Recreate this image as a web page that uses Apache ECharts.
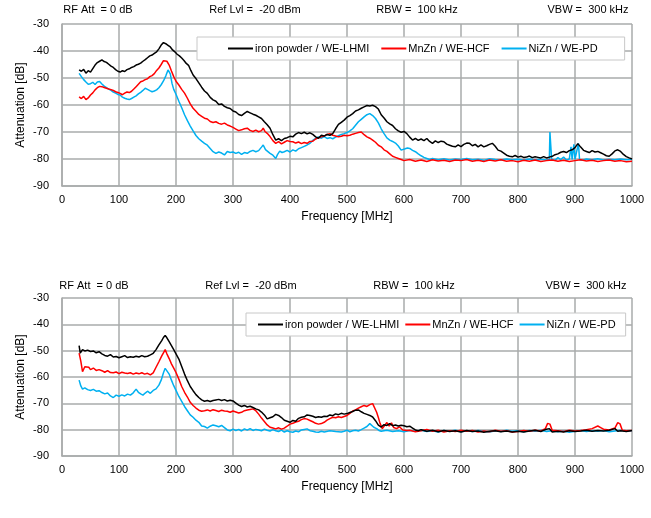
<!DOCTYPE html>
<html>
<head>
<meta charset="utf-8">
<script src="https://cdn.jsdelivr.net/npm/echarts@6/dist/echarts.min.js"></script>
<style>
html,body{margin:0;padding:0;background:#fff;}
#chart{width:651px;height:518px;}
</style>
</head>
<body>
<div id="chart"></div>
<script>
// ---------- data ----------
const seriesNames = ['iron powder / WE-LHMI', 'MnZn / WE-HCF', 'NiZn / WE-PD'];
const seriesColors = ['#000000', '#ff0000', '#00b0f0'];
const headerTexts = ['RF Att  = 0 dB', 'Ref Lvl =  -20 dBm', 'RBW =  100 kHz', 'VBW =  300 kHz'];
const xAxisName = 'Frequency [MHz]';
const yAxisName = 'Attenuation [dB]';
const xMin = 0, xMax = 1000, xStep = 100;
const yMin = -90, yMax = -30, yStep = 10;

// top chart
const topIron = [[30,-47],[34,-47.5],[38,-46.8],[42,-48.2],[46,-47.3],[50,-47.8],[54,-46.5],[58,-45.2],[62,-44.3],[66,-43.8],[70,-43.3],[74,-43.9],[78,-44.2],[82,-44.9],[86,-45.6],[90,-46.1],[94,-46.9],[98,-47.5],[102,-47.8],[106,-47.3],[110,-47.6],[114,-46.9],[118,-46.6],[122,-46.1],[126,-45.8],[130,-45.2],[134,-44.9],[138,-44.5],[142,-43.8],[146,-43.2],[150,-42.5],[154,-41.8],[158,-41.5],[162,-40.9],[166,-40.3],[170,-39.2],[174,-37.8],[178,-36.9],[182,-37.3],[186,-37.9],[190,-38.5],[194,-39.6],[198,-40.3],[202,-41.2],[206,-41.8],[210,-42.6],[214,-43.5],[218,-44.6],[222,-45.3],[226,-47.2],[230,-48.9],[235,-50.2],[240,-51.8],[245,-53.4],[250,-54.8],[255,-55.7],[260,-57.2],[265,-58.1],[270,-58.6],[275,-59.8],[280,-59.6],[285,-60.5],[290,-61],[295,-61.3],[300,-62.2],[305,-62.6],[310,-63.5],[315,-63.9],[320,-63.1],[325,-62.4],[330,-62.9],[335,-63.4],[340,-63.8],[345,-64.4],[350,-65],[355,-66.2],[360,-67.3],[365,-68.6],[370,-71],[375,-73],[380,-72.5],[385,-73.2],[390,-72.4],[395,-72.1],[400,-71.6],[405,-71.8],[410,-70.8],[415,-70.2],[420,-70.6],[425,-70.1],[430,-70.7],[435,-70.3],[440,-70.9],[445,-71.8],[450,-72.3],[455,-71.2],[460,-71.5],[465,-70.9],[470,-71.2],[475,-70.6],[480,-68.8],[485,-67.2],[490,-66.4],[495,-65.6],[500,-64.5],[505,-63.9],[510,-63.2],[515,-62.2],[520,-61.8],[525,-61.2],[530,-60.7],[535,-60.2],[540,-60.4],[545,-60.1],[550,-60.6],[555,-61.5],[560,-63.6],[565,-64.8],[570,-66.2],[575,-67],[580,-67.6],[585,-68.8],[590,-69.6],[595,-70.1],[600,-69.8],[605,-70.6],[610,-71.9],[615,-73],[620,-72.4],[625,-73.1],[630,-72.6],[635,-73.2],[640,-72.4],[645,-73.5],[650,-74.2],[655,-73.3],[660,-73.9],[665,-73.4],[670,-73.6],[675,-74.5],[680,-74.9],[685,-75.3],[690,-75.5],[695,-74.8],[700,-75.4],[705,-74.6],[710,-74.1],[715,-74.2],[720,-75.1],[725,-74.6],[730,-75.5],[735,-74.8],[740,-75.5],[745,-75.1],[750,-74.6],[755,-74.2],[760,-75.3],[765,-76.7],[770,-77.1],[775,-77.8],[780,-78.6],[785,-79],[790,-79.2],[795,-78.7],[800,-79.3],[805,-79],[810,-79.4],[815,-79.3],[820,-78.9],[825,-79.5],[830,-79.2],[835,-79.4],[840,-79.6],[845,-79.1],[850,-79.6],[855,-79.3],[860,-79],[865,-78.4],[870,-78.1],[875,-77.5],[880,-77.2],[885,-77.6],[890,-76.9],[895,-76.6],[900,-75.8],[905,-74.3],[910,-75.6],[915,-76.8],[920,-77.2],[925,-77.6],[930,-76.9],[935,-77.4],[940,-77.2],[945,-77.7],[950,-78.2],[955,-78.8],[960,-79],[965,-78.1],[970,-77],[975,-76.6],[980,-77.2],[985,-78.3],[990,-79.1],[995,-79.6],[1000,-80]];
const topMnZn = [[30,-57],[34,-57.6],[38,-56.8],[42,-58],[46,-57.4],[50,-56.3],[54,-55.5],[58,-54.4],[62,-53.6],[66,-53.1],[70,-53.2],[74,-53.5],[78,-53.8],[82,-54.1],[86,-54.3],[90,-54.6],[94,-55.1],[98,-55.4],[102,-55.7],[106,-56.2],[110,-55.6],[114,-55.2],[118,-55.4],[122,-54.9],[126,-54.1],[130,-53.2],[134,-52.3],[138,-51.4],[142,-51.1],[146,-50.6],[150,-50.3],[154,-49.5],[158,-49.1],[162,-48.4],[166,-47.2],[170,-46.3],[174,-45],[178,-43.6],[181,-43.1],[184,-43.8],[188,-45.2],[192,-47.4],[196,-49.5],[200,-51.2],[205,-52.6],[210,-54.2],[215,-55.6],[220,-57.5],[225,-59.6],[230,-61.2],[235,-62.3],[240,-63.5],[245,-64.2],[250,-64.9],[255,-65.2],[260,-66.1],[265,-66.5],[270,-66.2],[275,-66.8],[280,-67.1],[285,-66.7],[290,-67.4],[295,-67.8],[300,-68.3],[305,-68.9],[310,-69.5],[315,-69.2],[320,-68.8],[325,-68.6],[330,-69.4],[335,-69.8],[340,-69.3],[345,-69.9],[350,-69.5],[353,-68.6],[356,-69.8],[360,-70.5],[365,-71.7],[370,-73.2],[375,-74.2],[380,-73.6],[385,-74.4],[390,-73.8],[395,-73.2],[400,-73.5],[405,-73.6],[410,-74.1],[415,-73.7],[420,-74.3],[425,-73.9],[430,-74.2],[435,-73.5],[440,-73.4],[445,-72.6],[450,-72.1],[455,-71.8],[460,-71.5],[465,-70.9],[470,-70.6],[475,-71.2],[480,-71.5],[485,-71.8],[490,-71.6],[495,-71.2],[500,-71.4],[505,-71.2],[510,-70.8],[515,-70.5],[520,-70.2],[525,-70],[530,-71],[535,-71.8],[540,-72.3],[545,-73],[550,-73.8],[555,-74.9],[560,-75.5],[565,-76.6],[570,-77.2],[575,-78.1],[580,-79],[585,-79.4],[590,-79.8],[595,-80.2],[600,-80.6],[610,-80.2],[620,-80.8],[630,-80.4],[640,-80.9],[650,-80.3],[660,-80.7],[670,-80.5],[680,-80.9],[690,-80.4],[700,-80.6],[710,-80.2],[720,-80.8],[730,-80.5],[740,-80.9],[750,-80.4],[760,-80.7],[770,-80.3],[780,-80.8],[790,-80.6],[800,-81],[810,-80.5],[820,-80.8],[830,-80.4],[840,-80.9],[850,-80.6],[860,-80.4],[870,-80.8],[880,-80.5],[890,-80.9],[900,-80.6],[910,-80.3],[920,-80.7],[930,-80.5],[940,-80.9],[950,-80.6],[960,-80.4],[970,-80.8],[980,-80.6],[990,-81],[1000,-80.8]];
const topNiZn = [[30,-48.3],[34,-49.5],[38,-50.6],[42,-51.5],[46,-52.3],[50,-52.1],[54,-51.6],[58,-52.4],[62,-51.5],[66,-51.3],[70,-52.2],[74,-53],[78,-53.6],[82,-54.1],[86,-54.6],[90,-55.2],[94,-55.6],[98,-56.1],[102,-56.3],[106,-57.1],[110,-57.5],[114,-57.8],[118,-58],[122,-57.6],[126,-57.1],[130,-56.6],[134,-55.9],[138,-55.3],[142,-54.6],[146,-53.8],[150,-54.2],[154,-54.7],[158,-55.1],[162,-54.8],[166,-54.4],[170,-53.6],[174,-52.5],[178,-51.1],[182,-49.3],[186,-47],[188,-46.6],[190,-48.5],[193,-52],[196,-54.2],[200,-56],[205,-58.6],[210,-61],[215,-63.6],[220,-65.8],[225,-67.8],[230,-69.6],[235,-71.3],[240,-72.5],[245,-73.4],[250,-74.2],[255,-74.9],[260,-76.1],[265,-77.3],[270,-77.9],[275,-77.4],[280,-77.8],[285,-78.5],[290,-77.2],[295,-77.6],[300,-77.4],[305,-77.9],[310,-77.5],[315,-78.3],[320,-77.6],[325,-77.9],[330,-77.2],[335,-76.8],[340,-77.3],[345,-76.9],[350,-75.6],[353,-74.8],[357,-76.5],[360,-77.2],[365,-77.9],[370,-78.6],[375,-79.8],[378,-78.4],[382,-77.1],[386,-77.6],[390,-77.3],[395,-76.8],[400,-77.4],[405,-76.6],[410,-77.1],[415,-76.2],[420,-75.8],[425,-75.3],[430,-74.8],[435,-74.2],[440,-73.1],[445,-72.4],[450,-71.8],[455,-72.3],[460,-71.7],[465,-72.4],[470,-72.1],[475,-72.5],[480,-71.9],[485,-71.4],[490,-70.9],[495,-70.6],[500,-70.2],[505,-69.6],[510,-68.8],[515,-67.5],[520,-66.2],[525,-65.3],[530,-64.4],[535,-63.6],[540,-63.2],[545,-63.9],[550,-65],[555,-66.6],[560,-68.8],[565,-70.6],[570,-72.2],[575,-73],[580,-73.5],[585,-74.1],[590,-75.2],[595,-76.7],[598,-77.3],[602,-76.2],[606,-75.9],[610,-76.1],[615,-76.8],[620,-77.3],[625,-78.1],[630,-78.8],[635,-79.4],[640,-79.8],[645,-80.2],[650,-79.8],[660,-80.3],[670,-79.9],[680,-80.4],[690,-80],[700,-80.2],[710,-79.8],[720,-80.3],[730,-80.1],[740,-80.5],[750,-79.9],[760,-80.2],[770,-80.4],[780,-80],[790,-80.3],[800,-80.1],[810,-80.4],[820,-80],[830,-80.3],[840,-80.1],[850,-80.4],[855,-80.2],[856,-70],[858,-70.3],[859,-80.1],[865,-80.5],[870,-79.5],[875,-80.2],[880,-79.3],[885,-80.4],[890,-80],[893,-75.5],[895,-80.2],[898,-74.6],[900,-80.1],[903,-80.4],[906,-74.2],[908,-80.2],[912,-80.5],[920,-80],[930,-80.3],[940,-79.9],[950,-80.4],[960,-80.1],[970,-80.3],[980,-80],[990,-80.3],[1000,-80.1]];

// bottom chart
const botIron = [[30,-48.1],[32,-50.9],[36,-49.6],[40,-50.1],[45,-49.8],[50,-50.3],[55,-50.1],[60,-50.8],[65,-50.4],[70,-51.2],[75,-51.8],[80,-52.1],[85,-51.5],[90,-52.4],[95,-52.2],[100,-52.7],[105,-52.3],[110,-51.9],[115,-52.6],[120,-52.3],[125,-52.5],[130,-52.1],[135,-52.4],[140,-51.9],[145,-52.3],[150,-52.1],[155,-51.6],[160,-51],[165,-49.6],[170,-47.8],[175,-46.2],[178,-45],[181,-44.2],[184,-45.1],[188,-46.6],[192,-48.1],[196,-49.6],[200,-51.2],[205,-53.2],[210,-56],[215,-58.9],[220,-61.4],[225,-63.6],[230,-65.2],[235,-66.7],[240,-67.8],[245,-68.7],[250,-69.2],[255,-68.9],[260,-69.3],[265,-68.9],[270,-68.7],[275,-68.5],[280,-68.9],[285,-68.6],[290,-69.1],[295,-68.8],[300,-69.1],[305,-69.9],[310,-70.7],[315,-71.2],[320,-70.8],[325,-71.4],[330,-71.1],[335,-71.6],[340,-72.1],[345,-72.5],[350,-73.3],[355,-74.4],[360,-75.9],[365,-75.5],[370,-75.1],[375,-74.2],[380,-74.6],[385,-75.4],[390,-76.4],[395,-76.8],[400,-77.2],[405,-76.5],[410,-76.8],[415,-75.7],[420,-75.3],[425,-75.1],[430,-74.4],[435,-74.6],[440,-74.9],[445,-75.4],[450,-75.1],[455,-75.3],[460,-74.9],[465,-75],[470,-74.4],[475,-74.7],[480,-74],[485,-74.3],[490,-73.8],[495,-74.1],[500,-73.9],[505,-73.5],[510,-73.1],[515,-72.6],[520,-72.5],[525,-73.2],[530,-73.8],[535,-74.2],[540,-74.6],[545,-75.2],[550,-76.6],[555,-78.3],[560,-79],[565,-78.1],[570,-78.4],[575,-77.7],[580,-78.5],[585,-78.2],[590,-78.6],[595,-78.3],[600,-78.5],[605,-78.9],[610,-78.7],[615,-79.4],[620,-80.1],[625,-80.4],[630,-80],[640,-80.6],[650,-80.2],[660,-80.8],[670,-80.3],[680,-80.7],[690,-80.4],[700,-80.9],[710,-80.3],[720,-80.7],[730,-80.5],[740,-81],[750,-80.6],[760,-80.4],[770,-80.8],[780,-80.5],[790,-80.9],[800,-80.6],[810,-80.9],[820,-80.5],[830,-80.2],[840,-80.7],[850,-79.8],[855,-79.6],[860,-80.9],[870,-80.6],[880,-80.9],[890,-80.4],[900,-80.7],[910,-80.5],[920,-80.2],[930,-80.6],[940,-80.3],[950,-80.5],[960,-80.2],[970,-79.6],[975,-80.6],[980,-80.4],[990,-80.7],[1000,-80.3]];
const botMnZn = [[30,-50.9],[33,-54],[36,-58],[40,-56.1],[43,-55.4],[47,-56.3],[50,-57.2],[55,-56.6],[60,-57.5],[65,-57.2],[70,-57.6],[75,-58.2],[80,-57.6],[85,-58.3],[90,-58.4],[95,-58.1],[100,-58.7],[105,-58.2],[110,-58.5],[115,-58.7],[120,-58.4],[125,-58.9],[130,-58.5],[135,-58.8],[140,-58.4],[145,-58.9],[150,-58.6],[155,-59.2],[160,-58.4],[165,-56.3],[170,-54.2],[175,-52],[178,-50.8],[181,-49.6],[184,-51.2],[188,-53],[192,-55],[196,-56.6],[200,-58.3],[205,-60.8],[210,-63.6],[215,-65.8],[220,-67.6],[225,-69.6],[230,-70.8],[235,-71.8],[240,-72.6],[245,-73],[250,-72.8],[255,-72.5],[260,-72.9],[265,-72.4],[270,-72.7],[275,-73.1],[280,-72.6],[285,-72.9],[290,-73],[295,-73.4],[300,-72.9],[305,-73.3],[310,-73.7],[315,-73.4],[320,-72.8],[325,-72.5],[330,-72.3],[335,-72.1],[340,-72.8],[345,-74.1],[350,-75.6],[355,-76.9],[360,-78.2],[365,-79.1],[370,-79.4],[375,-79.7],[380,-79.3],[385,-79.8],[390,-79.4],[395,-78.7],[400,-77.9],[405,-77.6],[410,-77.1],[415,-76.8],[420,-76.2],[425,-75.8],[430,-76],[435,-76.5],[440,-77],[445,-77.6],[450,-77.9],[455,-77.7],[460,-77.2],[465,-76.4],[470,-75.8],[475,-75.3],[480,-75.5],[485,-75.1],[490,-75.4],[495,-75],[500,-74.6],[505,-73.8],[510,-72.9],[515,-72.5],[520,-71.8],[525,-71.3],[530,-70.8],[535,-71.2],[540,-70.5],[545,-70.1],[548,-70.2],[552,-73.4],[555,-75.4],[558,-77.6],[562,-79.6],[566,-78.4],[570,-77.3],[574,-78.6],[578,-77.4],[582,-79.2],[587,-79.6],[592,-78.9],[598,-80.1],[605,-80.3],[610,-80.2],[620,-80.8],[630,-80.4],[640,-79.9],[650,-80.6],[660,-80.2],[670,-80.9],[680,-80.4],[690,-80.7],[700,-80.2],[710,-80.6],[720,-80.3],[730,-80.9],[740,-80.5],[750,-80.8],[760,-80.2],[770,-80.6],[780,-80.4],[790,-80.9],[800,-80.7],[810,-80.3],[820,-80.6],[830,-80.2],[840,-80.5],[848,-79.6],[852,-77.6],[856,-77.9],[860,-80.2],[870,-80.4],[880,-80.7],[890,-80.2],[900,-80.5],[910,-80.3],[920,-80],[930,-79.6],[940,-78.6],[945,-79.2],[950,-79.8],[960,-80.1],[970,-79.4],[975,-77.3],[979,-77.8],[983,-80.2],[990,-80.4],[1000,-80.3]];
const botNiZn = [[30,-61.2],[33,-63.4],[36,-64.6],[40,-64.1],[45,-64.8],[50,-65.1],[55,-64.7],[60,-65.4],[65,-65.2],[70,-65.9],[75,-66.4],[80,-66.1],[85,-67.2],[90,-67.8],[95,-66.9],[100,-67.3],[105,-66.8],[110,-67.2],[115,-66.5],[120,-66.9],[125,-66],[130,-64.6],[134,-65.8],[138,-66.4],[142,-66.9],[146,-66.1],[150,-65.4],[155,-66.2],[160,-65.1],[165,-64.5],[170,-63.1],[174,-61.2],[178,-58.4],[181,-56.7],[184,-57.4],[188,-58.9],[192,-61.2],[196,-63.3],[200,-65.1],[205,-67.4],[210,-69.3],[215,-71.2],[220,-72.8],[225,-74.4],[230,-75.3],[235,-76.4],[240,-77.2],[245,-78.6],[250,-78.8],[255,-79.4],[260,-78.7],[265,-78.2],[270,-78.5],[275,-78.9],[280,-78.4],[285,-79.2],[290,-80.1],[295,-80.4],[300,-79.8],[305,-80.3],[310,-79.9],[315,-80.5],[320,-79.7],[325,-80.2],[330,-79.6],[335,-80.3],[340,-79.9],[345,-80.1],[350,-80.4],[355,-79.8],[360,-80.2],[365,-80.5],[370,-80],[375,-80.4],[380,-80.7],[385,-80.2],[390,-80.9],[395,-80.4],[400,-80.8],[405,-81],[410,-80.5],[415,-80.8],[420,-80.1],[425,-79.9],[430,-79.7],[435,-80.4],[440,-80.6],[445,-80.9],[450,-81],[455,-80.6],[460,-80.9],[470,-80.4],[480,-80.7],[490,-80.9],[495,-80.6],[500,-80.2],[505,-80.8],[510,-80.4],[515,-80.2],[520,-80.5],[525,-80],[530,-79.4],[535,-78.8],[540,-77.7],[543,-77.4],[547,-79.1],[552,-79.6],[556,-80.3],[560,-80.6],[570,-80.2],[580,-80.7],[590,-80.4],[600,-80.8],[610,-80.3],[620,-80.6],[630,-80.2],[640,-80.7],[650,-80.4],[660,-80.9],[670,-80.3],[680,-80.6],[690,-80.2],[700,-80.8],[710,-80.4],[720,-80.7],[730,-80.3],[740,-80.6],[750,-80.9],[760,-80.4],[770,-80.7],[780,-80.2],[790,-80.6],[800,-80.4],[810,-80.8],[820,-80.3],[830,-80.6],[840,-80.2],[850,-80.7],[860,-80.4],[870,-80.8],[880,-80.5],[890,-81],[900,-80.6],[910,-80.3],[920,-80.7],[930,-80.4],[940,-80.6],[950,-80.3],[960,-80.8],[970,-80.5],[980,-80.2],[990,-80.6],[1000,-80.4]];

// ---------- chart ----------
const FONT = "'Liberation Sans', Arial, sans-serif";
const GRID_COLOR = '#a8abab';
const panels = [
  { grid: { left: 62, top: 24, width: 570, height: 162 }, data: [topIron, topMnZn, topNiZn],
    headerY: 10, headerX: [98, 255, 417, 588],
    legend: { left: 197, top: 37, padding: [6, 27, 6, 31], itemGap: 12 } },
  { grid: { left: 62, top: 298, width: 570, height: 158 }, data: [botIron, botMnZn, botNiZn],
    headerY: 286, headerX: [94, 251, 414, 586],
    legend: { left: 246, top: 313, padding: [6, 10, 6, 12], itemGap: 6 } }
];

const option = {
  backgroundColor: '#ffffff',
  animation: false,
  textStyle: { fontFamily: FONT },
  grid: [], xAxis: [], yAxis: [], series: [], legend: [], graphic: []
};

panels.forEach((p, i) => {
  option.grid.push(Object.assign({ containLabel: false }, p.grid));
  option.xAxis.push({
    type: 'value', gridIndex: i, min: xMin, max: xMax, interval: xStep,
    name: xAxisName, nameLocation: 'middle', nameGap: 25, nameMoveOverlap: false,
    nameTextStyle: { color: '#000', fontSize: 12, fontFamily: FONT },
    axisLine: { show: true, lineStyle: { color: GRID_COLOR, width: 1.5 } },
    axisTick: { show: false },
    axisLabel: { color: '#000', fontSize: 11, margin: 8, fontFamily: FONT, formatter: v => String(v) },
    splitLine: { show: true, lineStyle: { color: GRID_COLOR, width: 1.5 } }
  });
  option.yAxis.push({
    type: 'value', gridIndex: i, min: yMin, max: yMax, interval: yStep,
    name: yAxisName, nameLocation: 'middle', nameGap: 35, nameMoveOverlap: false,
    nameTextStyle: { color: '#000', fontSize: 12, fontFamily: FONT },
    axisLine: { show: true, lineStyle: { color: GRID_COLOR, width: 1.5 } },
    axisTick: { show: false },
    axisLabel: { color: '#000', fontSize: 11, margin: 13, fontFamily: FONT, formatter: v => String(v) },
    splitLine: { show: true, lineStyle: { color: GRID_COLOR, width: 1.5 } }
  });
  p.data.forEach((d, k) => {
    option.series.push({
      type: 'line', name: seriesNames[k], xAxisIndex: i, yAxisIndex: i,
      data: d, symbol: 'none', showSymbol: false,
      lineStyle: { color: seriesColors[k], width: 1.5 },
      itemStyle: { color: seriesColors[k] }, z: 3 + (2 - k)
    });
  });
  option.legend.push(Object.assign({
    orient: 'horizontal', data: seriesNames.slice(),
    icon: 'rect', itemWidth: 25, itemHeight: 2,
    backgroundColor: '#ffffff', borderColor: '#c8c8c8', borderWidth: 1,
    textStyle: { color: '#000', fontSize: 11, fontFamily: FONT, padding: [0, 0, 0, -3] },
    selectedMode: false, z: 10
  }, p.legend));
  headerTexts.forEach((t, k) => {
    option.graphic.push({
      type: 'text', x: p.headerX[k], y: p.headerY,
      style: { text: t, fill: '#000', font: '11px ' + FONT, align: 'center', verticalAlign: 'middle' }
    });
  });
});

const chart = echarts.init(document.getElementById('chart'), null, { renderer: 'canvas' });
chart.setOption(option);
</script>
</body>
</html>
